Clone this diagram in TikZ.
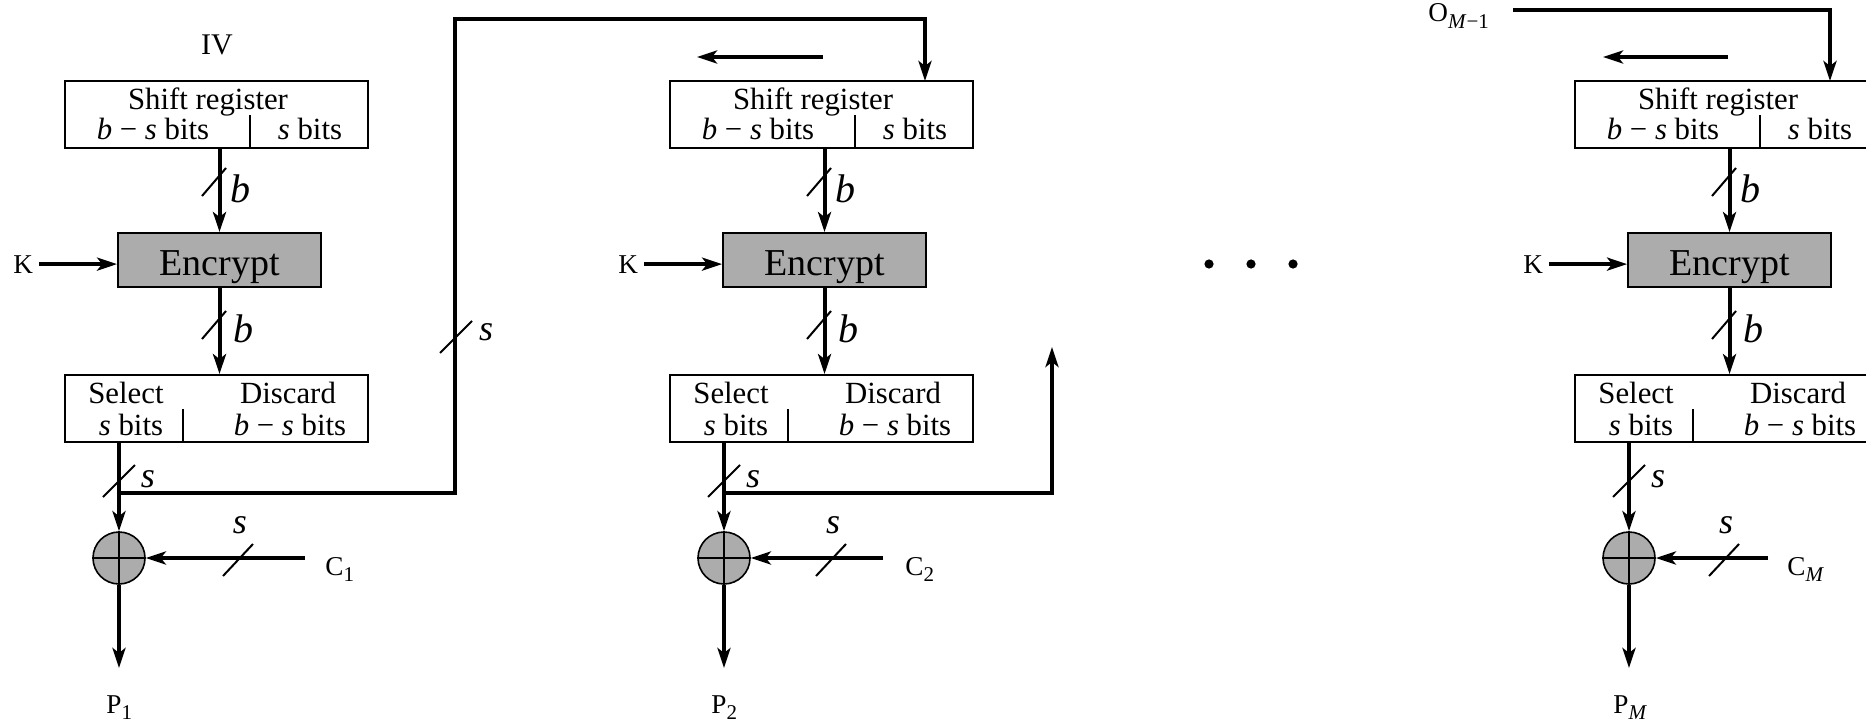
\documentclass[tikz,border=0pt]{standalone}
\usepackage{fontspec}
\setmainfont{Liberation Serif}
\usetikzlibrary{arrows.meta}
\definecolor{encgray}{RGB}{172,172,172}
\newcommand{\mysub}[1]{\raisebox{-0.5ex}{\fontsize{10.5}{11}\selectfont #1}}
\begin{document}
\begin{tikzpicture}[x=0.5pt,y=-0.5pt,
  line/.style={line width=2pt},
  arr/.style={line width=2pt,-{Stealth[length=10pt,width=6.5pt,inset=2.5pt]}},
  regbox/.style={draw,line width=0.9pt,minimum width=151.5pt,minimum height=33.5pt,inner sep=0pt},
  encbox/.style={draw,line width=0.9pt,fill=encgray,minimum width=101.5pt,minimum height=27pt,inner sep=0pt},
  xorc/.style={circle,draw,line width=0.8pt,fill=encgray,minimum size=26pt,inner sep=0pt},
  regtxt/.style={inner sep=0pt,anchor=base,font=\fontsize{15.4}{16}\selectfont},
  enctxt/.style={inner sep=0pt,anchor=base,font=\fontsize{19}{20}\selectfont},
  blbl/.style={inner sep=0pt,anchor=base,font=\fontsize{20}{20}\selectfont\itshape},
  slbl/.style={inner sep=0pt,anchor=base,font=\fontsize{18}{18}\selectfont\itshape},
  io/.style={inner sep=0pt,anchor=base west,font=\fontsize{13.6}{14}\selectfont},
  slashln/.style={line width=1pt},
  divln/.style={line width=0.9pt}
]
\useasboundingbox (0,0) rectangle (1866,722);
\clip (0,0) rectangle (1866,722);

\foreach \i/\dx/\cx/\cl/\cs in {1/0/305/325/238, 2/605/278/300/226, 3/1510/258/277/214} {
\begin{scope}[shift={(\dx,0)}]
  % shift register
  \node[regbox] (sr\i) at (216.5,114.5) {};
  \draw[divln] (250,115) -- (250,148);
  \node[regtxt] (srt\i) at (208,110) {Shift register};
  \node[regtxt] (srl\i) at (153,140) {\textit{b} − \textit{s} bits};
  \node[regtxt] (srr\i) at (310,140) {\textit{s} bits};
  \coordinate (in\i) at (320,81);
  % encrypt
  \node[encbox] (enc\i) at (219.5,260) {};
  \node[enctxt] (enct\i) at (219.5,275) {Encrypt};
  \node[io] (k\i) at (13,273) {K};
  \draw[arr] (k\i.east) ++(3pt,0) -- (k\i.east -| enc\i.west);
  % select box
  \node[regbox] (sel\i) at (216.5,408.5) {};
  \draw[divln] (183,409) -- (183,442);
  \node[regtxt] (selt\i) at (126,403) {Select};
  \node[regtxt] (sels\i) at (131,435) {\textit{s} bits};
  \node[regtxt] (disc\i) at (288,403) {Discard};
  \node[regtxt] (discb\i) at (290,435) {\textit{b} − \textit{s} bits};
  % connectors
  \draw[arr] (sr\i.south -| enc\i.north) -- (enc\i.north);
  \draw[slashln] (202,196) -- (226,168);
  \node[blbl] (b1\i) at (240,202) {b};
  \draw[arr] (enc\i.south) -- (enc\i.south |- sel\i.north);
  \draw[slashln] (202,339) -- (226,311);
  \node[blbl] (b2\i) at (243,342) {b};
  % xor
  \node[xorc] (xor\i) at (119,558) {};
  \draw[line width=0.8pt] (xor\i.north) -- (xor\i.south) (xor\i.west) -- (xor\i.east);
  \coordinate (o\i) at (119,442);
  \coordinate (j\i) at (119,493);
  \draw[arr] (o\i) -- (xor\i.north);
  \draw[slashln] (103,497) -- (135,465);
  \node[slbl] (so\i) at (148,487) {s};
  % C input
  \coordinate (c\i) at (\cx,558);
  \draw[arr] (c\i) -- (xor\i.east);
  \draw[slashln] (\cs-15,576) -- (\cs+15,544);
  \node[slbl] (sc\i) at (\cs+2,533) {s};
  % P output
  \coordinate (p\i) at (119,668);
  \draw[arr] (xor\i.south) -- (p\i);
\end{scope}
}
% labels of inputs and outputs
\node[io] (cl1) at (325,575) {C\mysub{1}};
\node[io] (cl2) at (905,575) {C\mysub{2}};
\node[io] (cl3) at (1787,575) {C\mysub{\textit{M}}};
\node[io] (pl1) at (106,713) {P\mysub{1}};
\node[io] (pl2) at (711,713) {P\mysub{2}};
\node[io] (pl3) at (1613,713) {P\mysub{\textit{M}}};
\node[inner sep=0pt,anchor=base,font=\fontsize{15}{16}\selectfont] (iv) at (217,55) {IV};
\node[io] (om) at (1428,22) {O\mysub{\textit{M}−1}};

% left shift arrows
\coordinate (ls2a) at (823,57); \coordinate (ls2b) at (697,57);
\draw[arr] (ls2a) -- (ls2b);
\coordinate (ls3a) at (1728,57); \coordinate (ls3b) at (1603,57);
\draw[arr] (ls3a) -- (ls3b);

% feedback column 1 -> column 2
\coordinate (t1) at (455,19);
\draw[arr] (j1) -| (t1) -| (in2);
\draw[slashln] (440,353) -- (472,321);
\node[slbl] (sf1) at (486,340) {s};

% feedback column 2 (upward)
\coordinate (f2) at (1052,347);
\draw[arr] (j2) -| (f2);

% column 3 input
\coordinate (os) at (1513,10);
\draw[arr] (os) -| (in3);

% ellipsis
\fill (1209,264) circle (2.3pt);
\fill (1251,264) circle (2.3pt);
\fill (1293,264) circle (2.3pt);
\end{tikzpicture}
\end{document}
